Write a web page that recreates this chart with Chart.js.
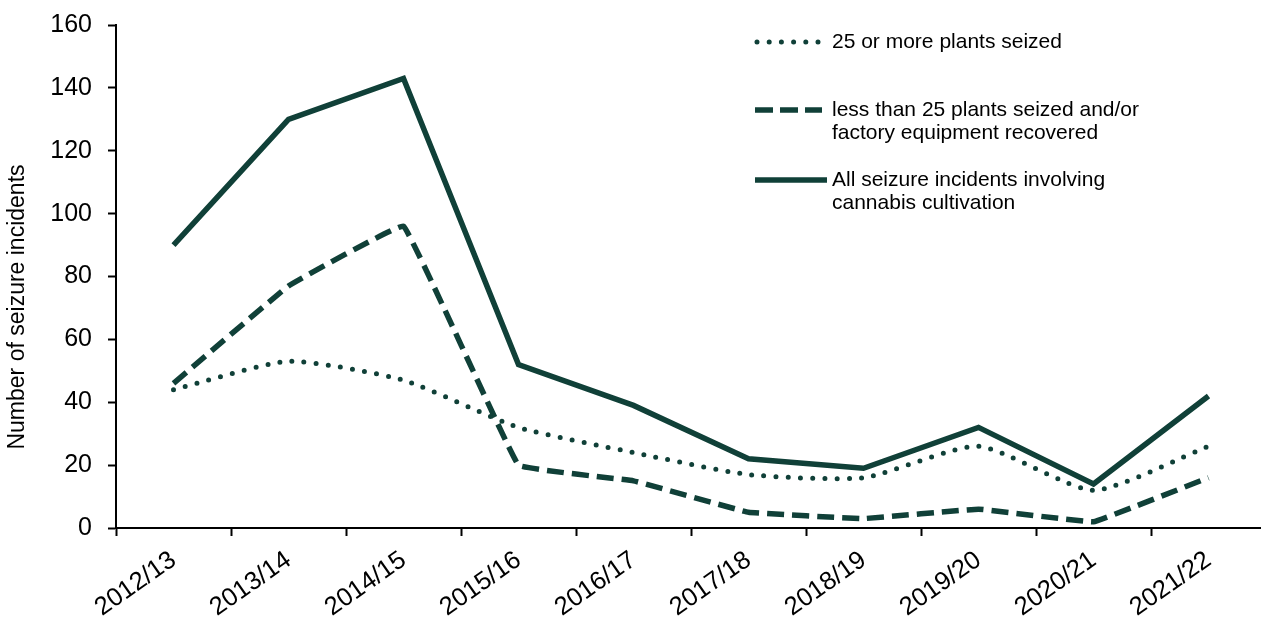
<!DOCTYPE html>
<html>
<head>
<meta charset="utf-8">
<script src="https://cdn.jsdelivr.net/npm/chart.js@4"></script>
<style>
  html, body { margin:0; padding:0; background:#fff; overflow:hidden; }
  #wrap { width:1261px; height:619px; overflow:hidden; }
  #box { width:1290px; height:619px; }
</style>
</head>
<body>
<div id="wrap"><div id="box"><canvas id="chart"></canvas></div></div>
<script>
const years = ["2012/13","2013/14","2014/15","2015/16","2016/17","2017/18","2018/19","2019/20","2020/21","2021/22"]
const plants25OrMore = [44, 53, 47, 32, 24, 17, 16, 26, 12, 26]
const lessThan25 = [46, 77, 96, 20, 15, 5, 3, 6, 2, 16]
const allIncidents = [90, 130, 143, 52, 39, 22, 19, 32, 14, 42]
const yTicks = [0, 20, 40, 60, 80, 100, 120, 140, 160]

const green = "#104038"
const font = "'Liberation Sans', Arial, sans-serif"

Chart.defaults.font.family = font
Chart.defaults.color = "#000"

// legend entries drawn by hand, Excel style
const legendItems = [
    { lines:["25 or more plants seized"], y:42, width:5, dash:[0,12.2], cap:"round", x0:757, x1:820 },
    { lines:["less than 25 plants seized and/or","factory equipment recovered"], y:110, width:5.5, dash:[18,7], cap:"butt", x0:755, x1:822 },
    { lines:["All seizure incidents involving","cannabis cultivation"], y:180, width:5.5, dash:[], cap:"butt", x0:755, x1:827 }
]

const extras = {
    id:"extras",
    afterDraw(chart){
        const ctx = chart.ctx
        ctx.save()
        legendItems.forEach(item => {
            ctx.strokeStyle = green
            ctx.lineWidth = item.width
            ctx.lineCap = item.cap
            ctx.setLineDash(item.dash)
            ctx.beginPath()
            ctx.moveTo(item.x0, item.y)
            ctx.lineTo(item.x1, item.y)
            ctx.stroke()
            ctx.setLineDash([])
            ctx.fillStyle = "#000"
            ctx.font = "21px " + font
            ctx.textBaseline = "middle"
            ctx.textAlign = "left"
            item.lines.forEach((t, i) => ctx.fillText(t, 832, item.y + i * 23.5))
        })
        // y axis title
        ctx.translate(18, 307)
        ctx.rotate(-Math.PI / 2)
        ctx.font = "23px " + font
        ctx.textAlign = "center"
        ctx.textBaseline = "middle"
        ctx.fillText("Number of seizure incidents", 0, 0)
        ctx.restore()
    }
}

new Chart(document.getElementById("chart"), {
    type:"line",
    data:{
        labels:years,
        datasets:[
            { label:"25 or more plants seized", data:plants25OrMore, borderColor:green, borderWidth:5,
              borderDash:[0,12.2], borderCapStyle:"round", tension:0.2, pointRadius:0 },
            { label:"less than 25 plants seized and/or factory equipment recovered", data:lessThan25, borderColor:green,
              borderWidth:5.5, borderDash:[17,8], tension:0.05, pointRadius:0 },
            { label:"All seizure incidents involving cannabis cultivation", data:allIncidents, borderColor:green,
              borderWidth:5.5, tension:0, pointRadius:0 }
        ]
    },
    options:{
        responsive:true,
        maintainAspectRatio:false,
        animation:false,
        layout:{ padding:{ top:25, right:24, bottom:0, left:0 } },
        plugins:{ legend:{ display:false }, tooltip:{ enabled:false } },
        scales:{
            x:{
                offset:true,
                grid:{ offset:true, drawOnChartArea:false, tickLength:8, color:"#000", tickWidth:2 },
                border:{ color:"#000", width:2 },
                ticks:{ font:{ size:25.5 }, color:"#000", minRotation:35, maxRotation:35, autoSkip:false, padding:9 },
                afterFit(s){ s.height = 91 }
            },
            y:{
                min:yTicks[0],
                max:yTicks[yTicks.length - 1],
                afterBuildTicks(s){ s.ticks = yTicks.map(v => ({ value:v })) },
                grid:{ drawOnChartArea:false, tickLength:8, color:"#000", tickWidth:2 },
                border:{ color:"#000", width:2 },
                ticks:{ font:{ size:25, lineHeight:0.6 }, color:"#000", padding:16 },
                afterFit(s){ s.width = 116 }
            }
        }
    },
    plugins:[extras]
})
</script>
</body>
</html>
